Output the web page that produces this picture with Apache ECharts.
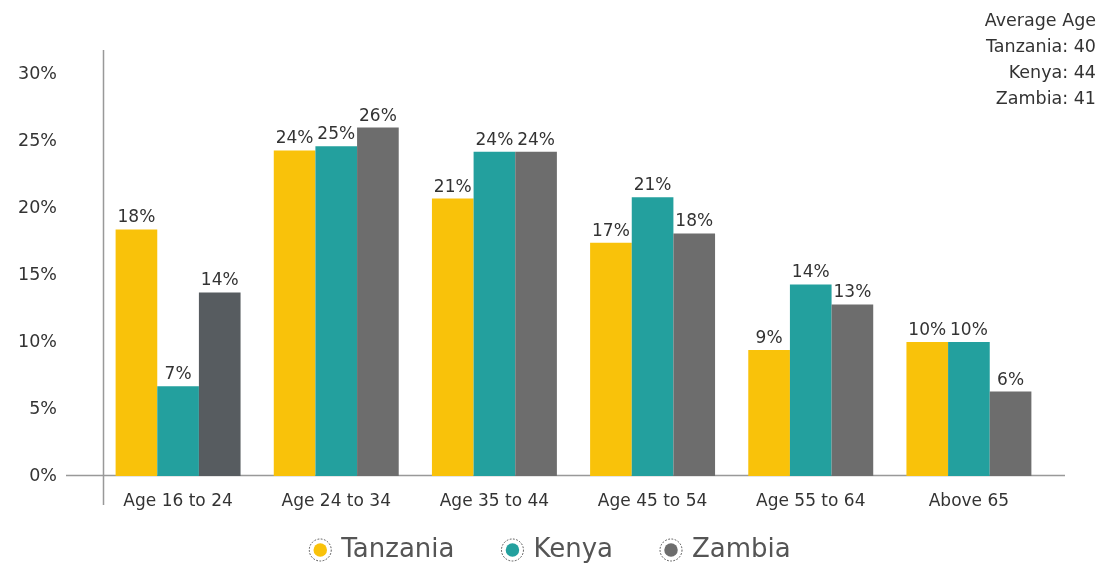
<!DOCTYPE html>
<html>
<head>
<meta charset="utf-8">
<script src="https://cdn.jsdelivr.net/npm/echarts@6/dist/echarts.min.js"></script>
<style>
  html, body { margin: 0; padding: 0; background: #fff; }
  #chart { width: 1099px; height: 565px; }
</style>
</head>
<body>
<div id="chart"></div>
<script>
const categories = ["Age 16 to 24", "Age 24 to 34", "Age 35 to 44", "Age 45 to 54", "Age 55 to 64", "Above 65"];
const tanzania = [18.4, 24.3, 20.7, 17.4, 9.4, 10.0];
const kenya = [6.7, 24.6, 24.2, 20.8, 14.3, 10.0];
const zambia = [13.7, 26.0, 24.2, 18.1, 12.8, 6.3];
const yTicks = [0, 5, 10, 15, 20, 25, 30];
const averageAge = [["Tanzania", 40], ["Kenya", 44], ["Zambia", 41]];

const FONT = "'DejaVu Sans', sans-serif";
const colors = { Tanzania: "#f9c20a", Kenya: "#23a09e", Zambia: "#6d6d6d" };

// legend marker: filled dot inside a dashed ring
function legendIcon(color) {
  const svg = '<svg xmlns="http://www.w3.org/2000/svg" width="48" height="48">' +
    '<circle cx="24" cy="24" r="22" fill="none" stroke="#444" stroke-width="1.8" stroke-dasharray="3.5,3"/>' +
    '<circle cx="24" cy="24" r="13.5" fill="' + color + '"/></svg>';
  return "image://data:image/svg+xml;charset=utf-8," + encodeURIComponent(svg);
}

function makeSeries(name, values) {
  return {
    name: name,
    type: "bar",
    barGap: 0,
    barCategoryGap: "21%",
    data: values.map(function(v, i) {
      // first Zambia bar is drawn a bit darker in the source
      if (name === "Zambia" && i === 0) {
        return { value: v, itemStyle: { color: "#575c60" } };
      }
      return v;
    }),
    itemStyle: { color: colors[name] },
    label: {
      show: true,
      position: "top",
      distance: 3,
      color: "#333",
      fontFamily: FONT,
      fontSize: 17,
      formatter: function(p) { return Math.round(p.value) + "%"; }
    }
  };
}

const chart = echarts.init(document.getElementById("chart"));
chart.setOption({
  animation: false,
  grid: { left: 99, right: 51, top: 74, bottom: 89 },
  legend: {
    top: 532,
    left: "center",
    itemWidth: 24,
    itemHeight: 24,
    itemGap: 46,
    textStyle: { color: "#555", fontSize: 26, fontFamily: FONT, padding: [0, 0, 0, 4] },
    data: [
      { name: "Tanzania", icon: legendIcon(colors.Tanzania) },
      { name: "Kenya", icon: legendIcon(colors.Kenya) },
      { name: "Zambia", icon: legendIcon(colors.Zambia) }
    ]
  },
  xAxis: {
    type: "category",
    data: categories,
    axisLine: { show: false },
    axisTick: { show: false },
    axisLabel: { color: "#333", fontSize: 17, fontFamily: FONT, margin: 17 }
  },
  yAxis: {
    type: "value",
    min: yTicks[0],
    max: yTicks[yTicks.length - 1],
    interval: 5,
    axisLine: { show: false },
    axisTick: { show: false },
    splitLine: { show: false },
    axisLabel: {
      color: "#333",
      fontSize: 17.5,
      fontFamily: FONT,
      margin: 42,
      formatter: "{value}%"
    }
  },
  graphic: [
    {
      type: "line",
      shape: { x1: 66, y1: 475.5, x2: 1065, y2: 475.5 },
      style: { stroke: "#999", lineWidth: 1.5 }
    },
    {
      type: "line",
      shape: { x1: 103.5, y1: 50, x2: 103.5, y2: 505 },
      style: { stroke: "#999", lineWidth: 1.5 }
    },
    {
      type: "text",
      x: 1096,
      y: 8,
      style: {
        text: "Average Age\n" + averageAge.map(function(a) { return a[0] + ": " + a[1]; }).join("\n"),
        align: "right",
        verticalAlign: "top",
        fill: "#333",
        fontSize: 17.5,
        fontFamily: FONT,
        lineHeight: 26
      }
    }
  ],
  series: [
    makeSeries("Tanzania", tanzania),
    makeSeries("Kenya", kenya),
    makeSeries("Zambia", zambia)
  ]
});
</script>
</body>
</html>
